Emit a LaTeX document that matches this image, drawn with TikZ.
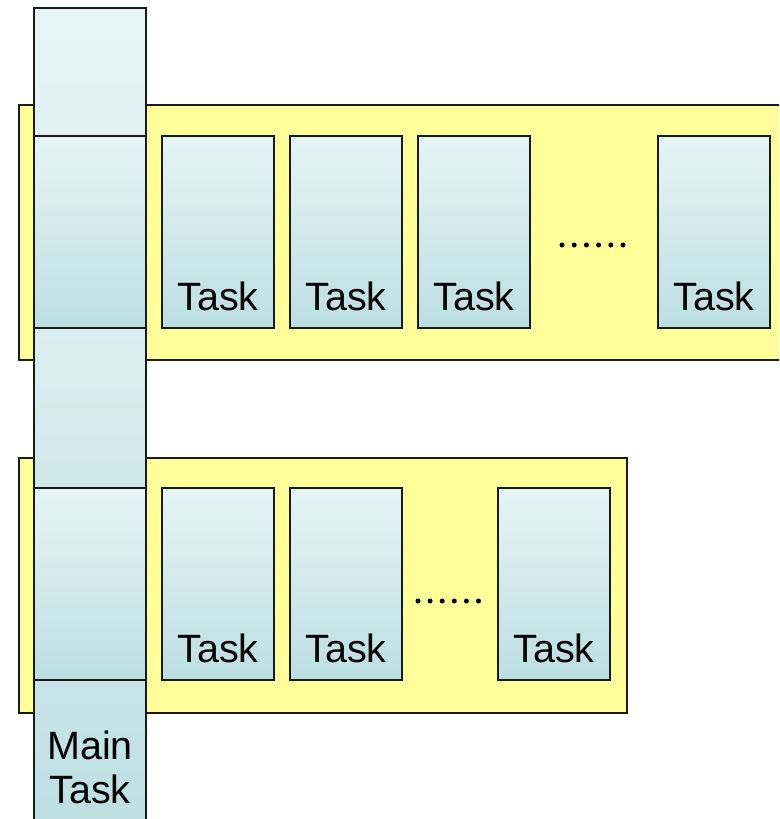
\documentclass[tikz,border=0pt]{standalone}
\usepackage{fontspec}
\setmainfont{Liberation Sans}
\definecolor{ylw}{HTML}{FFFF99}
\definecolor{tlight}{HTML}{E6F4F5}
\definecolor{tdark}{HTML}{BCDFE2}
\definecolor{edge}{HTML}{1A1A1A}
\tikzset{
  yband/.style={draw=edge, line width=1.7pt, fill=ylw, rectangle, inner sep=0pt, anchor=north west},
  tbox/.style={draw=edge, line width=1.7pt, top color=tlight, bottom color=tdark, rectangle, inner sep=0pt, minimum width=112pt, minimum height=192pt},
  colbox/.style={draw=edge, line width=1.7pt, rectangle, inner sep=0pt, minimum width=112pt},
  tlabel/.style={font=\fontsize{39.5}{44}\selectfont, anchor=base, inner sep=0pt},
  dotmark/.style={fill=black, draw=none}
}
\begin{document}
\begin{tikzpicture}[x=1pt,y=-1pt]
\clip (0,0) rectangle (779,819);
\fill[white] (0,0) rectangle (779,819);
% yellow bands
\node[yband, minimum width=790pt, minimum height=255pt] (band1) at (18,104) {};
\node[yband, minimum width=608pt, minimum height=255pt] (band2) at (18,457) {};
% main column
\node[colbox, top color=tlight, bottom color=tlight!90!tdark, minimum height=128pt] (m1) at (90,72) {};
\node[tbox] (m2) at (90,232) {};
\node[colbox, top color=tlight!75!tdark, bottom color=tlight!45!tdark, minimum height=160pt] (m3) at (90,408) {};
\node[tbox] (m4) at (90,584) {};
\node[colbox, top color=tlight!25!tdark, bottom color=tdark, minimum height=160pt] (m5) at (90,760) {};
\node[font=\fontsize{39.5}{44}\selectfont, align=center, anchor=base, inner sep=0pt] (mainlabel) at (90,803) {Main\\Task};
% top row tasks
\node[tbox] (a1) at (218,232) {};
\node[tbox] (a2) at (346,232) {};
\node[tbox] (a3) at (474,232) {};
\node[tbox] (a4) at (714,232) {};
\foreach \n in {a1,a2,a3,a4}{
  \node[tlabel] (\n l) at ([yshift=18pt]\n.south) {Task};
}
\foreach \i in {0,...,5}{
  \fill[dotmark] (562+12.2*\i,245) circle (2.5);
}
% bottom row tasks
\node[tbox] (b1) at (218,584) {};
\node[tbox] (b2) at (346,584) {};
\node[tbox] (b3) at (554,584) {};
\foreach \n in {b1,b2,b3}{
  \node[tlabel] (\n l) at ([yshift=18pt]\n.south) {Task};
}
\foreach \i in {0,...,5}{
  \fill[dotmark] (418+12.1*\i,601) circle (2.5);
}
\end{tikzpicture}
\end{document}
